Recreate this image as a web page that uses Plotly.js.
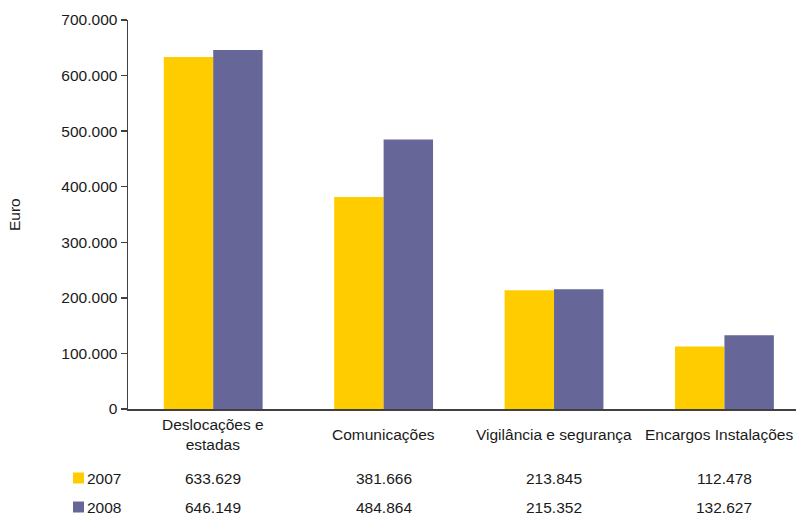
<!DOCTYPE html>
<html>
<head>
<meta charset="utf-8">
<script src="https://cdn.plot.ly/plotly-3.0.1.min.js"></script>
<style>html,body{margin:0;padding:0;background:#fff;}#chart{width:796px;height:516px;}</style>
</head>
<body>
<div id="chart"></div>
<script>
const categories = ["Deslocações e<br>estadas", "Comunicações", "Vigilância e segurança", "Encargos Instalações"];
const seriesNames = ["2007", "2008"];
const values2007 = [633629, 381666, 213845, 112478];
const values2008 = [646149, 484864, 215352, 132627];
const tableText2007 = ["633.629", "381.666", "213.845", "112.478"];
const tableText2008 = ["646.149", "484.864", "215.352", "132.627"];
const colors = ["#FFCC00", "#666699"];

const font = {family: "Liberation Sans, Arial, sans-serif", size: 15.5, color: "#1a1a1a"};
const idx = categories.map((c, i) => i);

const traces = [
  {type: "bar", x: idx, y: values2007, name: seriesNames[0], marker: {color: colors[0]}, hoverinfo: "none"},
  {type: "bar", x: idx, y: values2008, name: seriesNames[1], marker: {color: colors[1]}, hoverinfo: "none"}
];

const H = 516, T = 20, B = 107;
const plotH = H - T - B;
function pyToPaper(py) { return (H - B - py) / plotH; }
const L = 128, R = 0, plotW = 796 - L - R;
function pxToPaper(px) { return (px - L) / plotW; }

const annotations = [];
categories.forEach((c, i) => {
  const last = i === categories.length - 1;
  annotations.push(last
    ? {x: pxToPaper(795), y: pyToPaper(434), xref: "paper", yref: "paper", text: c, showarrow: false, font: font, xanchor: "right", yanchor: "middle"}
    : {x: i, y: pyToPaper(434), xref: "x", yref: "paper", text: c, showarrow: false, font: font, xanchor: "center", yanchor: "middle"});
});
const rows = [tableText2007, tableText2008];
const rowY = [478, 507];
rows.forEach((r, ri) => {
  r.forEach((t, i) => {
    annotations.push({x: i, y: pyToPaper(rowY[ri]), xref: "x", yref: "paper", text: t, showarrow: false, font: font, xanchor: "center", yanchor: "middle"});
  });
  annotations.push({x: pxToPaper(85), y: pyToPaper(rowY[ri]), xref: "paper", yref: "paper", text: seriesNames[ri], showarrow: false, font: font, xanchor: "left", yanchor: "middle"});
});

const shapes = rowY.map((py, ri) => ({
  type: "rect", xref: "paper", yref: "paper",
  x0: pxToPaper(73), x1: pxToPaper(84),
  y0: pyToPaper(py - 5.5), y1: pyToPaper(py + 5.5),
  fillcolor: colors[ri], line: {width: 0}
}));

annotations.push({x: pxToPaper(15), y: pyToPaper(215), xref: "paper", yref: "paper", text: "Euro", textangle: -90, showarrow: false, font: font, xanchor: "center", yanchor: "middle"});

const layout = {
  width: 796, height: 516,
  margin: {l: L, r: R, t: T, b: B, pad: 0},
  paper_bgcolor: "#fff", plot_bgcolor: "#fff",
  separators: ",.",
  font: font,
  showlegend: false,
  barmode: "group",
  bargap: 0.42,
  bargroupgap: 0,
  xaxis: {
    range: [-0.5, 3.42], tickvals: idx, showticklabels: false, ticks: "",
    showline: true, linecolor: "#404040", linewidth: 1.5, showgrid: false, zeroline: false, fixedrange: true
  },
  yaxis: {
    range: [0, 700000], tickvals: [0, 100000, 200000, 300000, 400000, 500000, 600000, 700000],
    tickformat: ",.0f", ticks: "outside", ticklen: 6, tickcolor: "#404040", tickwidth: 1.5,
    showline: true, linecolor: "#404040", linewidth: 1.5, showgrid: false, zeroline: false,
    tickfont: font
  },
  annotations: annotations,
  shapes: shapes
};

Plotly.newPlot("chart", traces, layout, {displayModeBar: false, staticPlot: true});
</script>
</body>
</html>
